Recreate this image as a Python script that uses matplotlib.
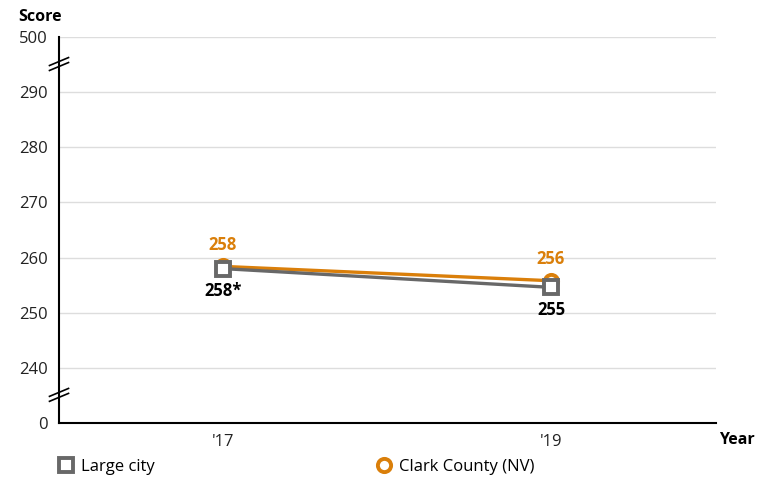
import matplotlib.pyplot as plt
from matplotlib import font_manager as fm
from matplotlib.lines import Line2D

plt.rcParams['font.family'] = ['Open Sans', 'Noto Sans', 'DejaVu Sans']

years = ["'17", "'19"]
large_city = [258.0, 254.6]
clark = [258.4, 255.8]
large_city_labels = ['258*', '255']
clark_labels = ['258', '256']
ytick_values = [0, 240, 250, 260, 270, 280, 290, 500]

gray = '#686868'
orange = '#DA7F0A'


def bold_font(size):
    # pick a plain-width bold face file; the family lookup can land on a condensed one
    for name in ['Open Sans', 'Noto Sans']:
        for f in fm.fontManager.ttflist:
            fn = f.fname.split('/')[-1].lower()
            if (f.name == name and f.weight in (700, 'bold') and f.style == 'normal'
                    and 'condensed' not in fn and '[' not in fn):
                return fm.FontProperties(fname=f.fname, size=size)
    return fm.FontProperties(family='DejaVu Sans', weight='bold', size=size)


def pos(v):
    # broken axis: 0 sits one step below 240, 500 one step above 290
    if v >= 500:
        return 300
    if v <= 0:
        return 230
    return v


fig = plt.figure(figsize=(7.7, 4.83), dpi=100)
ax = fig.add_axes([59 / 770, 60 / 483, 657 / 770, 386 / 483])
x = list(range(len(years)))

ax.set_xlim(-0.5, 1.503)
ax.set_ylim(230, 300)
yt = [pos(v) for v in ytick_values]
ax.set_yticks(yt)
ax.set_yticklabels([str(v) for v in ytick_values], fontsize=12, color='#222222')
ax.set_xticks(x)
ax.set_xticklabels(years, fontsize=12, color='#222222')
ax.tick_params(length=0, pad=8)
for v in yt[1:]:
    ax.axhline(v, color='#dddddd', lw=1, zorder=0)
for s in ['top', 'right']:
    ax.spines[s].set_visible(False)
ax.spines['left'].set_linewidth(1.5)
ax.spines['bottom'].set_linewidth(1.5)

ax.plot(x, clark, color=orange, lw=2.4, marker='o', ms=9.5, mfc='white',
        mec=orange, mew=2.8, zorder=3)
ax.plot(x, large_city, color=gray, lw=2.4, marker='s', ms=9.5, mfc='white',
        mec=gray, mew=2.8, zorder=4)

fb = bold_font(12)
for xi, v, t in zip(x, clark, clark_labels):
    ax.annotate(t, (xi, v), xytext=(0, 9), textcoords='offset points',
                ha='center', va='bottom', color=orange, fontproperties=fb)
for xi, v, t in zip(x, large_city, large_city_labels):
    ax.annotate(t, (xi, v), xytext=(0, -10), textcoords='offset points',
                ha='center', va='top', color='black', fontproperties=fb)

# break marks on the y axis
for yb in [295.1, 235.1]:
    for d in [-0.45, 0.45]:
        ax.plot([-0.529, -0.471], [yb - 0.72 + d, yb + 0.72 + d], color='black',
                lw=1.2, clip_on=False, zorder=5)

fig.text(18 / 770, 1 - 17 / 483, 'Score', fontproperties=bold_font(11.5), va='center')
fig.text(719 / 770, 1 - 440 / 483, 'Year', fontproperties=bold_font(11.5), va='center')

h1 = Line2D([], [], color=gray, marker='s', ms=9.5, mfc='white', mew=2.8, lw=0)
h2 = Line2D([], [], color=orange, marker='o', ms=9.5, mfc='white', mew=2.8, lw=0)
fig.legend([h1], ['Large city'], loc='center left', bbox_to_anchor=(49 / 770, 1 - 467 / 483),
           frameon=False, fontsize=12, handletextpad=0.3, handlelength=1.2, borderaxespad=0)
fig.legend([h2], ['Clark County (NV)'], loc='center left', bbox_to_anchor=(367 / 770, 1 - 467 / 483),
           frameon=False, fontsize=12, handletextpad=0.3, handlelength=1.2, borderaxespad=0)

fig.savefig('out.png', dpi=100)
